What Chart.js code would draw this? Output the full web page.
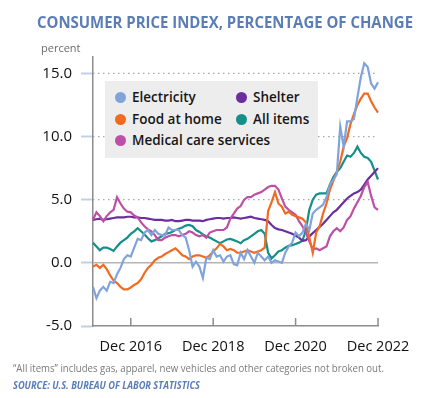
<!DOCTYPE html>
<html>
<head>
<meta charset="utf-8">
<script src="https://cdn.jsdelivr.net/npm/chart.js@4.4.0/dist/chart.umd.min.js"></script>
<style>
  body { margin: 0; background: #fff; }
  #wrap { position: relative; width: 440px; height: 398px; overflow: hidden; font-family: "Open Sans", sans-serif; }
  #chart { position: absolute; left: 0; top: 0; }
  .txt { position: absolute; white-space: nowrap; transform-origin: 0 0; }
  #title { left: 37px; top: 11px; font-size: 15.5px; font-weight: 700; color: #5a7db6; }
  #unit { left: 41px; top: 40px; font-size: 11px; color: #6b6b6b; }
  #legend { position: absolute; left: 105px; top: 81px; width: 213px; height: 77px; background: #eeeded; }
  .item { position: absolute; line-height: 20px; font-size: 13.5px; font-weight: 600; color: #161616; white-space: nowrap; }
  .dot { position: absolute; width: 11px; height: 11px; border-radius: 50%; }
  #note { left: 13px; top: 360px; font-size: 11px; color: #7a7a7a; }
  #source { left: 13px; top: 378px; font-size: 10px; font-weight: 700; font-style: italic; color: #5a7db6; }
</style>
</head>
<body>
<div id="wrap">
  <canvas id="chart" width="440" height="398"></canvas>
  <div id="title" class="txt">CONSUMER PRICE INDEX, PERCENTAGE OF CHANGE</div>
  <div id="unit" class="txt">percent</div>
  <div id="legend"></div>
  <div id="note" class="txt">“All items” includes gas, apparel, new vehicles and other categories not broken out.</div>
  <div id="source" class="txt">SOURCE: U.S. BUREAU OF LABOR STATISTICS</div>
</div>
<script>
// monthly categories, Jan 2016 .. Dec 2022
var monthNames = ['Jan','Feb','Mar','Apr','May','Jun','Jul','Aug','Sep','Oct','Nov','Dec'];
var years = [2016, 2017, 2018, 2019, 2020, 2021, 2022];
var months = [];
years.forEach(function(y) { monthNames.forEach(function(m) { months.push(m + ' ' + y); }); });

var xTickLabels = ['Dec 2016', 'Dec 2018', 'Dec 2020', 'Dec 2022'];
var yTicks = [-5, 0, 5, 10, 15];

// 12-month percent change
var electricity = [-1.9, -2.8, -2.2, -1.9, -2.2, -1.5, -1.6, -0.9, -0.4, 0.3, 0.6, 0.5,
  1.2, 1.9, 1.8, 2.4, 2.6, 2.2, 2.6, 2.3, 2.2, 2.2, 2.8, 2.6,
  2.6, 2.6, 2.2, 2.0, 1.0, -0.3, 0.1, -0.3, -1.2, 0.4, 0.3, 1.0,
  0.5, 0.6, 0.1, 0.5, 0.6, -0.1, -0.2, 0.8, 0.3, 1.0, 0.5, 0.0,
  0.8, 0.5, 0.2, 0.5, 0.0, 0.2, 0.1, 0.0, 0.8, 1.3, 1.6, 2.4,
  2.1, 2.4, 3.1, 2.6, 3.9, 4.2, 4.4, 4.6, 5.2, 6.2, 6.6, 7.0,
  10.8, 9.2, 11.2, 11.2, 11.4, 13.1, 14.7, 15.8, 15.5, 14.2, 13.8, 14.3];

var foodAtHome = [-0.3, -0.15, -0.4, -0.15, -0.5, -1.0, -1.4, -1.6, -1.9, -2.1, -2.1, -1.95,
  -1.75, -1.6, -1.3, -0.8, -0.4, -0.15, 0.2, 0.4, 0.5, 0.7, 0.85, 1.0,
  1.15, 0.9, 0.6, 0.5, 0.3, 0.5, 0.6, 0.6, 0.5, 0.4, 0.6, 0.9,
  1.15, 1.5, 1.3, 1.0, 1.1, 1.0, 0.8, 0.8, 0.9, 1.0, 0.9, 0.8,
  0.9, 1.0, 1.2, 4.1, 4.8, 5.6, 4.7, 4.45, 3.9, 4.05, 3.8, 3.7,
  3.6, 3.5, 3.2, 2.0, 0.8, 2.4, 2.9, 3.9, 4.7, 5.8, 6.5, 7.2,
  8.0, 9.2, 9.9, 11.0, 11.8, 12.5, 13.0, 13.4, 13.4, 12.8, 12.3, 11.9];

var medicalCare = [3.4, 4.0, 3.7, 3.3, 3.7, 4.0, 4.2, 5.2, 4.7, 4.3, 4.05, 4.0,
  3.75, 3.6, 3.2, 2.9, 2.65, 2.5, 2.2, 1.8, 1.8, 2.0, 2.1, 2.2,
  2.2, 2.1, 2.2, 2.3, 2.5, 2.4, 2.2, 2.1, 2.2, 2.0, 2.4, 2.5,
  2.6, 2.6, 2.6, 2.8, 3.5, 3.9, 4.3, 4.5, 5.0, 5.2, 5.2, 5.4,
  5.5, 5.6, 5.8, 6.0, 6.1, 6.1, 5.8, 5.1, 4.45, 4.2, 4.0, 3.8,
  3.3, 2.9, 2.4, 1.7, 1.1, 1.15, 1.0, 1.15, 1.3, 2.1, 2.5, 2.75,
  2.5, 2.8, 3.4, 3.7, 4.3, 4.8, 5.3, 6.0, 6.4, 5.3, 4.4, 4.2];

var shelter = [3.4, 3.45, 3.5, 3.4, 3.45, 3.5, 3.55, 3.6, 3.6, 3.6, 3.65, 3.65,
  3.6, 3.6, 3.55, 3.55, 3.5, 3.45, 3.4, 3.4, 3.4, 3.35, 3.35, 3.4,
  3.3, 3.3, 3.35, 3.4, 3.4, 3.35, 3.35, 3.35, 3.3, 3.4, 3.45, 3.5,
  3.55, 3.55, 3.5, 3.55, 3.55, 3.6, 3.55, 3.5, 3.55, 3.6, 3.65, 3.55,
  3.5, 3.45, 3.4, 3.3, 3.0, 2.75, 2.65, 2.6, 2.5, 2.4, 2.3, 2.15,
  2.0, 1.75, 1.8, 2.1, 2.35, 2.6, 2.85, 3.1, 3.4, 3.7, 4.0, 4.2,
  4.5, 4.8, 5.1, 5.3, 5.5, 5.6, 5.8, 6.2, 6.6, 6.9, 7.2, 7.5];

var allItems = [1.6, 1.3, 1.0, 1.2, 1.2, 1.1, 0.95, 1.3, 1.6, 1.8, 2.0, 2.3,
  2.5, 2.75, 2.5, 2.25, 1.95, 1.7, 1.8, 1.95, 2.1, 2.3, 2.35, 2.45,
  2.6, 2.7, 2.8, 2.95, 3.0, 2.9, 2.6, 2.45, 2.25, 2.1, 2.0, 1.85,
  1.7, 1.55, 1.7, 1.85, 1.9, 1.8, 1.7, 1.55, 1.8, 1.9, 2.1, 2.3,
  2.5, 2.6, 2.3, 0.8, 0.35, 0.6, 0.9, 1.0, 1.2, 1.35, 1.4, 1.5,
  1.6, 1.75, 2.6, 4.2, 5.0, 5.4, 5.5, 5.5, 5.5, 6.2, 6.8, 7.2,
  7.5, 8.0, 8.5, 8.4, 8.7, 9.2, 8.7, 8.4, 8.3, 8.0, 7.3, 6.6];

var series = [
  { name: 'Electricity', data: electricity, color: '#80a4da' },
  { name: 'Food at home', data: foodAtHome, color: '#f26a22' },
  { name: 'Medical care services', data: medicalCare, color: '#bd4fa6' },
  { name: 'Shelter', data: shelter, color: '#6a2e9f' },
  { name: 'All items', data: allItems, color: '#148f89' }
];

// legend: two columns like the original
var legendSlots = { 'Electricity': [0, 0], 'Shelter': [1, 0], 'Food at home': [0, 1], 'All items': [1, 1], 'Medical care services': [0, 2] };
var colX = [15, 136], rowY = [16, 38, 59];
var legend = document.getElementById('legend');
series.forEach(function(s) {
  var slot = legendSlots[s.name];
  var cx = colX[slot[0]], cy = rowY[slot[1]];
  var dot = document.createElement('div');
  dot.className = 'dot';
  dot.style.left = (cx - 5.5) + 'px';
  dot.style.top = (cy - 5.5) + 'px';
  dot.style.background = s.color;
  legend.appendChild(dot);
  var t = document.createElement('div');
  t.className = 'item';
  t.textContent = s.name;
  t.style.left = (cx + 12) + 'px';
  t.style.top = (cy - 10.5) + 'px';
  legend.appendChild(t);
});

// squeeze text blocks to the widths of the original
function fitWidth(id, w) {
  var el = document.getElementById(id);
  var cur = el.getBoundingClientRect().width;
  el.style.transform = 'scaleX(' + (w / cur) + ')';
}
fitWidth('title', 376);
fitWidth('note', 371);
fitWidth('source', 187);

var gridPlugin = {
  id: 'cpiGrid',
  beforeDatasetsDraw: function(chart) {
    var ctx = chart.ctx, y = chart.scales.y, area = chart.chartArea;
    ctx.save();
    yTicks.forEach(function(v) {
      if (v === -5) return;
      var py = y.getPixelForValue(v);
      ctx.beginPath();
      if (v === 0) {
        ctx.setLineDash([]);
        ctx.strokeStyle = '#b4b4b4';
        ctx.lineWidth = 1.5;
      } else {
        ctx.setLineDash([1.5, 3.5]);
        ctx.strokeStyle = '#a8a8a8';
        ctx.lineWidth = 1.2;
      }
      ctx.moveTo(area.left, py);
      ctx.lineTo(area.right, py);
      ctx.stroke();
    });
    ctx.restore();
  },
  afterDraw: function(chart) {
    var ctx = chart.ctx, x = chart.scales.x, area = chart.chartArea;
    ctx.save();
    ctx.strokeStyle = '#8c8c8c';
    ctx.lineWidth = 1.5;
    x.ticks.forEach(function(t) {
      var px = x.getPixelForValue(t.value);
      ctx.beginPath();
      ctx.moveTo(px, area.bottom);
      ctx.lineTo(px, area.bottom - 8);
      ctx.stroke();
    });
    ctx.restore();
  }
};

var chart = new Chart('chart', {
  type: 'line',
  data: {
    labels: months,
    datasets: series.map(function(s) {
      return { label: s.name, data: s.data, borderColor: s.color, backgroundColor: s.color, fill: false };
    })
  },
  options: {
    responsive: false,
    animation: false,
    layout: { padding: { left: 0, right: 62, top: 57, bottom: 0 } },
    elements: { point: { radius: 0 }, line: { borderWidth: 2.2, tension: 0 } },
    plugins: { legend: { display: false }, tooltip: { enabled: false } },
    scales: {
      x: {
        type: 'category',
        offset: false,
        grid: { display: false },
        border: { display: true, color: '#8c8c8c', width: 1.5 },
        ticks: {
          autoSkip: false, maxRotation: 0, padding: 4, color: '#111',
          font: { family: 'Open Sans', size: 14.5 },
          callback: function(v) { return months[v]; }
        },
        afterBuildTicks: function(s) {
          s.ticks = s.ticks.filter(function(t) { return xTickLabels.indexOf(months[t.value]) >= 0; });
        },
        afterFit: function(s) { s.height = 72; }
      },
      y: {
        min: -5, max: 16.3,
        afterBuildTicks: function(s) { s.ticks = yTicks.map(function(v) { return { value: v }; }); },
        grid: { drawOnChartArea: false, tickColor: '#bfd0e8', tickLength: 12, tickWidth: 2 },
        border: { color: '#8c8c8c', width: 1.5 },
        ticks: {
          padding: 9, color: '#111',
          font: { family: 'Open Sans', size: 15 },
          callback: function(v) { return v.toFixed(1); }
        },
        afterFit: function(s) { s.width = 93; }
      }
    }
  },
  plugins: [gridPlugin]
});
</script>
</body>
</html>
